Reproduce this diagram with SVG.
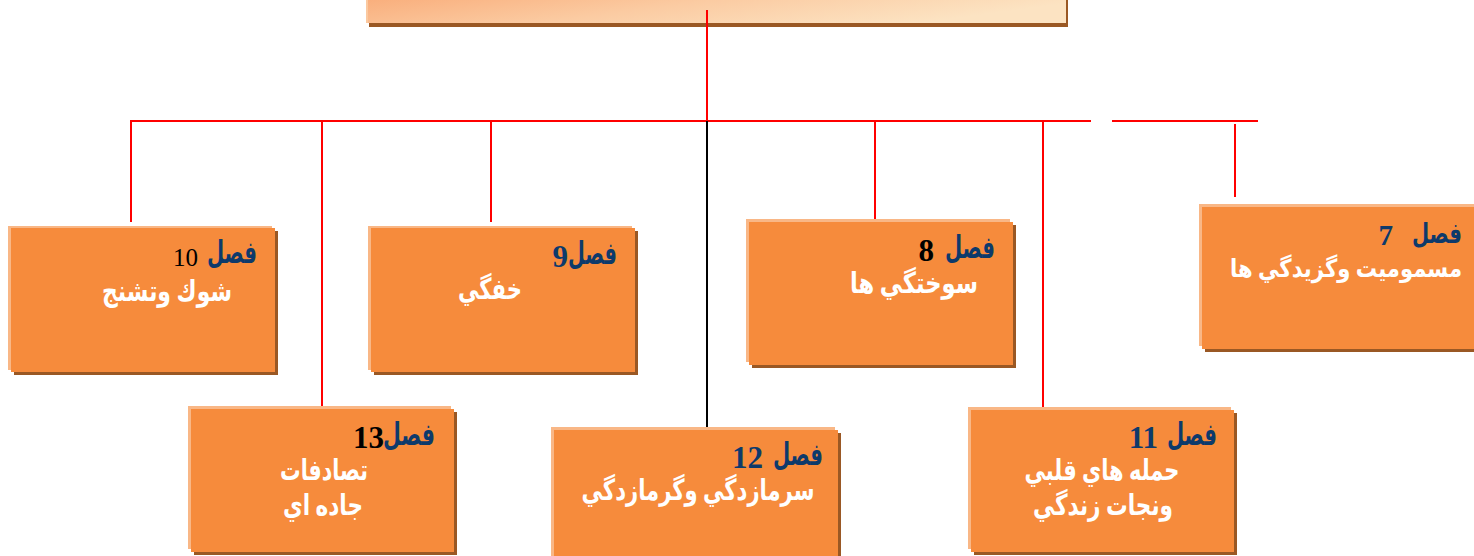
<svg xmlns="http://www.w3.org/2000/svg" width="1474" height="556" viewBox="0 0 1474 556">
<defs>
<linearGradient id="tg" x1="0" y1="0" x2="1" y2="0.3">
<stop offset="0" stop-color="#F9AC79"/>
<stop offset="0.5" stop-color="#FBCBA2"/>
<stop offset="1" stop-color="#FCE3C2"/>
</linearGradient>
</defs>
<style>
.sh{fill:#9A5824}
.lt{fill:#F9B786}
.bx{fill:#F68B3C}
.ln{stroke:#FF0000;stroke-width:2;fill:none}
.hd{font-family:"Liberation Serif","DejaVu Sans",serif;font-weight:bold;font-size:31px;fill:#0D3A6B}
.num{font-family:"Liberation Serif",serif;font-weight:bold;font-size:31px;fill:#0D3A6B}
.bd{font-family:"Liberation Serif","DejaVu Sans",serif;font-weight:bold;font-size:29px;fill:#FFFFFF}
.blk{fill:#000000}
.reg{font-weight:normal}
</style>
<g id="top">
<rect x="369" y="-5" width="699" height="32" class="sh"/>
<rect x="366" y="-5" width="698" height="28" fill="#FBC9A0"/>
<rect x="368" y="-5" width="698" height="28" fill="url(#tg)"/>
</g>
<g id="connectors">
<line x1="707" y1="10" x2="707" y2="121" class="ln"/>
<line x1="130" y1="121" x2="1091" y2="121" class="ln"/>
<line x1="1112" y1="121" x2="1258" y2="121" class="ln"/>
<line x1="131" y1="121" x2="131" y2="222" class="ln"/>
<line x1="322" y1="121" x2="322" y2="408" class="ln"/>
<line x1="491" y1="121" x2="491" y2="222" class="ln"/>
<line x1="707" y1="121" x2="707" y2="430" stroke="#000000" stroke-width="2"/>
<line x1="875" y1="121" x2="875" y2="221" class="ln"/>
<line x1="1043" y1="121" x2="1043" y2="409" class="ln"/>
<line x1="1235" y1="124" x2="1235" y2="197" class="ln"/>
</g>
<g id="box10">
<rect x="14" y="231" width="264" height="144" class="sh"/>
<rect x="8" y="226" width="264" height="144" class="lt"/>
<rect x="11" y="228" width="264" height="144" class="bx"/>
<text x="257" y="263" class="hd" text-anchor="end" textLength="50" lengthAdjust="spacingAndGlyphs">فصل</text>
<text x="198" y="266" class="num blk reg" text-anchor="end" style="font-size:25px">10</text>
<text x="167" y="301" class="bd" text-anchor="middle" textLength="130" lengthAdjust="spacingAndGlyphs">شوك وتشنج</text>
</g>
<g id="box9">
<rect x="374" y="231" width="264" height="144" class="sh"/>
<rect x="368" y="226" width="264" height="144" class="lt"/>
<rect x="371" y="228" width="264" height="144" class="bx"/>
<text x="617" y="264" class="hd" text-anchor="end" textLength="49" lengthAdjust="spacingAndGlyphs">فصل</text>
<text x="568" y="267" class="num" text-anchor="end">9</text>
<text x="490" y="299" class="bd" text-anchor="middle" textLength="64" lengthAdjust="spacingAndGlyphs">خفگي</text>
</g>
<g id="box8">
<rect x="752" y="225" width="264" height="143" class="sh"/>
<rect x="746" y="219" width="264" height="143" class="lt"/>
<rect x="749" y="222" width="264" height="143" class="bx"/>
<text x="995" y="258" class="hd" text-anchor="end" textLength="50" lengthAdjust="spacingAndGlyphs">فصل</text>
<text x="934" y="261" class="num blk" text-anchor="end">8</text>
<text x="914" y="293" class="bd" text-anchor="middle" textLength="128" lengthAdjust="spacingAndGlyphs">سوختگي ها</text>
</g>
<g id="box7">
<rect x="1205" y="210" width="272" height="142" class="sh"/>
<rect x="1199" y="204" width="280" height="142" class="lt"/>
<rect x="1202" y="207" width="280" height="142" class="bx"/>
<text x="1462" y="243" class="hd" text-anchor="end" textLength="50" lengthAdjust="spacingAndGlyphs" style="font-size:28px">فصل</text>
<text x="1393" y="245" class="num" text-anchor="end" style="font-size:29px">7</text>
<text x="1346" y="277" class="bd" text-anchor="middle" textLength="232" lengthAdjust="spacingAndGlyphs" style="font-size:25px">مسموميت وگزيدگي ها</text>
</g>
<g id="box13">
<rect x="194" y="412" width="263" height="143" class="sh"/>
<rect x="188" y="406" width="263" height="143" class="lt"/>
<rect x="191" y="409" width="263" height="143" class="bx"/>
<text x="435" y="445" class="hd" text-anchor="end" textLength="52" lengthAdjust="spacingAndGlyphs">فصل</text>
<text x="384" y="448" class="num blk" text-anchor="end">13</text>
<text x="324" y="480" class="bd" text-anchor="middle" textLength="88" lengthAdjust="spacingAndGlyphs">تصادفات</text>
<text x="323" y="515" class="bd" text-anchor="middle" textLength="80" lengthAdjust="spacingAndGlyphs">جاده اي</text>
</g>
<g id="box12">
<rect x="557" y="433" width="284" height="130" class="sh"/>
<rect x="551" y="427" width="284" height="130" class="lt"/>
<rect x="554" y="430" width="284" height="130" class="bx"/>
<text x="823" y="465" class="hd" text-anchor="end" textLength="50" lengthAdjust="spacingAndGlyphs">فصل</text>
<text x="763" y="468" class="num" text-anchor="end">12</text>
<text x="698" y="500" class="bd" text-anchor="middle" textLength="233" lengthAdjust="spacingAndGlyphs">سرمازدگي وگرمازدگي</text>
</g>
<g id="box11">
<rect x="974" y="413" width="263" height="142" class="sh"/>
<rect x="968" y="407" width="263" height="142" class="lt"/>
<rect x="971" y="410" width="263" height="142" class="bx"/>
<text x="1217" y="445" class="hd" text-anchor="end" textLength="50" lengthAdjust="spacingAndGlyphs">فصل</text>
<text x="1158" y="448" class="num" text-anchor="end">11</text>
<text x="1102" y="480" class="bd" text-anchor="middle" textLength="155" lengthAdjust="spacingAndGlyphs">حمله هاي قلبي</text>
<text x="1103" y="515" class="bd" text-anchor="middle" textLength="140" lengthAdjust="spacingAndGlyphs">ونجات زندگي</text>
</g>
</svg>
